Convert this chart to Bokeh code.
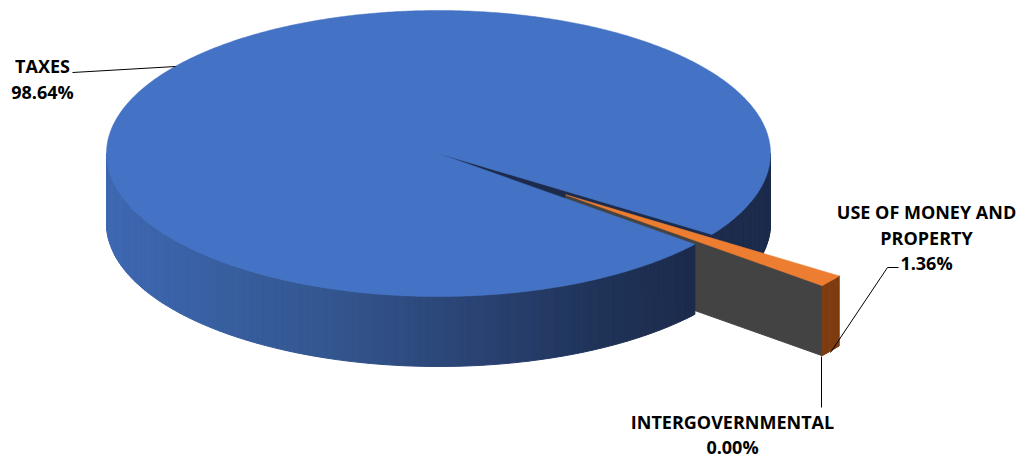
import numpy as np
from bokeh.plotting import figure
from bokeh.models import Range1d
from bokeh.embed import file_html
from bokeh.resources import INLINE
from bokeh.core.properties import value

# ---- data ----
categories = ["TAXES", "USE OF MONEY AND PROPERTY", "INTERGOVERNMENTAL"]
shares = [98.64, 1.36, 0.00]
label_names = [["TAXES"], ["USE OF MONEY AND", "PROPERTY"], ["INTERGOVERNMENTAL"]]
pct_labels = [f"{s:.2f}%" for s in shares]

# ---- layout / style ----
W, H = 1021, 457
CX, CY, RX, RY, DEPTH = 438.0, 153.0, 332.0, 143.0, 70.0
EXPLODE = [0.0, 0.48, 0.0]
MID_SMALL = 37.0  # screen angle (deg, clockwise from 3 o'clock) of slice 2 bisector
TOP_COLORS = ["#4472C4", "#ED7D31", "#A5A5A5"]
GREY_FACE = "#434343"
ORANGE_WALL = "#7E3C10"
NAVY = "#1C2B4C"

spans = [s / 100.0 * 360.0 for s in shares]
start0 = MID_SMALL + spans[1] / 2.0  # start of first slice
starts, ends = [], []
a = start0
for sp in spans:
    starts.append(a)
    ends.append(a + sp)
    a += sp


def offset(i):
    m = np.radians((starts[i] + ends[i]) / 2.0)
    return EXPLODE[i] * RX * np.cos(m), EXPLODE[i] * RY * np.sin(m)


def pt(t, off, dz=0.0):
    r = np.radians(t)
    return CX + off[0] + RX * np.cos(r), CY + off[1] + RY * np.sin(r) + dz


stops_c = np.array([-1.0, -0.33, 0.19, 0.49, 0.76, 1.0])
stops_rgb = np.array([[62, 104, 178], [51, 86, 143], [40, 63, 110],
                      [31, 51, 88], [28, 43, 76], [28, 43, 76]], dtype=float)


def wall_color(t):
    c = np.cos(np.radians(t))
    rgb = [np.interp(c, stops_c, stops_rgb[:, k]) for k in range(3)]
    return "#%02x%02x%02x" % tuple(int(round(v)) for v in rgb)


p = figure(width=W, height=H, x_range=Range1d(0, W), y_range=Range1d(H, 0),
           output_backend="svg", toolbar_location=None, min_border=0)
p.axis.visible = False
p.grid.visible = False
p.outline_line_color = None
p.background_fill_color = "white"
p.border_fill_color = "white"


def draw_wall(i, t0, t1, color=None, step=1.0):
    off = offset(i)
    n = max(1, int(np.ceil((t1 - t0) / step)))
    ts = np.linspace(t0, t1, n + 1)
    xs, ys, cols = [], [], []
    for k in range(n):
        a0, a1 = ts[k], ts[k + 1]
        x0, y0 = pt(a0, off)
        x1, y1 = pt(a1, off)
        xs.append([x0, x1, x1, x0])
        ys.append([y0, y1, y1 + DEPTH, y0 + DEPTH])
        cols.append(color if color else wall_color((a0 + a1) / 2))
    p.patches(xs, ys, fill_color=cols, line_color=cols, line_width=1)


def visible_ranges(t0, t1):
    res = []
    base = np.floor(t0 / 360.0) * 360.0
    for k in range(-1, 3):
        lo, hi = base + k * 360.0, base + k * 360.0 + 180.0
        a, b = max(t0, lo), min(t1, hi)
        if b > a:
            res.append((a, b))
    return res


def radial_face(i, t, color):
    off = offset(i)
    x0, y0 = CX + off[0], CY + off[1]
    x1, y1 = pt(t, off)
    p.patch([x0, x1, x1, x0], [y0, y1, y1 + DEPTH, y0 + DEPTH],
            fill_color=color, line_color=color, line_width=1)


def top_face(i, color):
    off = offset(i)
    n = max(2, int(np.ceil(ends[i] - starts[i])) * 2)
    ts = np.linspace(starts[i], ends[i], n + 1)
    xs = [CX + off[0]] + [pt(t, off)[0] for t in ts]
    ys = [CY + off[1]] + [pt(t, off)[1] for t in ts]
    p.patch(xs, ys, fill_color=color, line_color=color, line_width=0.5)


# 1. back-right part of big slice wall (behind exploded slice)
vis0 = visible_ranges(starts[0], ends[0])
for a0, b0 in vis0:
    if a0 >= 360:
        draw_wall(0, a0, b0)
# 2. big slice radial face at its end
radial_face(0, ends[0], NAVY)
# 3. exploded slice: visible radial face and outer wall
radial_face(1, ends[1], GREY_FACE)
for a0, b0 in visible_ranges(starts[1], ends[1]):
    draw_wall(1, a0, b0, color=ORANGE_WALL, step=0.5)
# 4. front part of big slice wall
for a0, b0 in vis0:
    if a0 < 360:
        draw_wall(0, a0, b0)
# 5. top faces
top_face(0, TOP_COLORS[0])
top_face(1, TOP_COLORS[1])

# ---- leader lines ----
p.line([72, 175], [72, 66], line_color="black", line_width=1)
p.line([898, 887, 830], [267, 267, 352], line_color="black", line_width=1)
p.line([821, 821], [356, 407], line_color="black", line_width=1)

# ---- labels ----
FONT = value("Open Sans")
lx = [42, 926, 732]
lbase = [[65, 91], [211, 237, 262], [421, 446]]
for i in range(3):
    lines = label_names[i] + [pct_labels[i]]
    p.text(x=[lx[i]] * len(lines), y=lbase[i], text=lines,
           text_align="center", text_baseline="alphabetic",
           text_font=FONT, text_font_style="bold", text_font_size="18px",
           text_color="black")

open("out.html", "w").write(file_html(p, INLINE))
